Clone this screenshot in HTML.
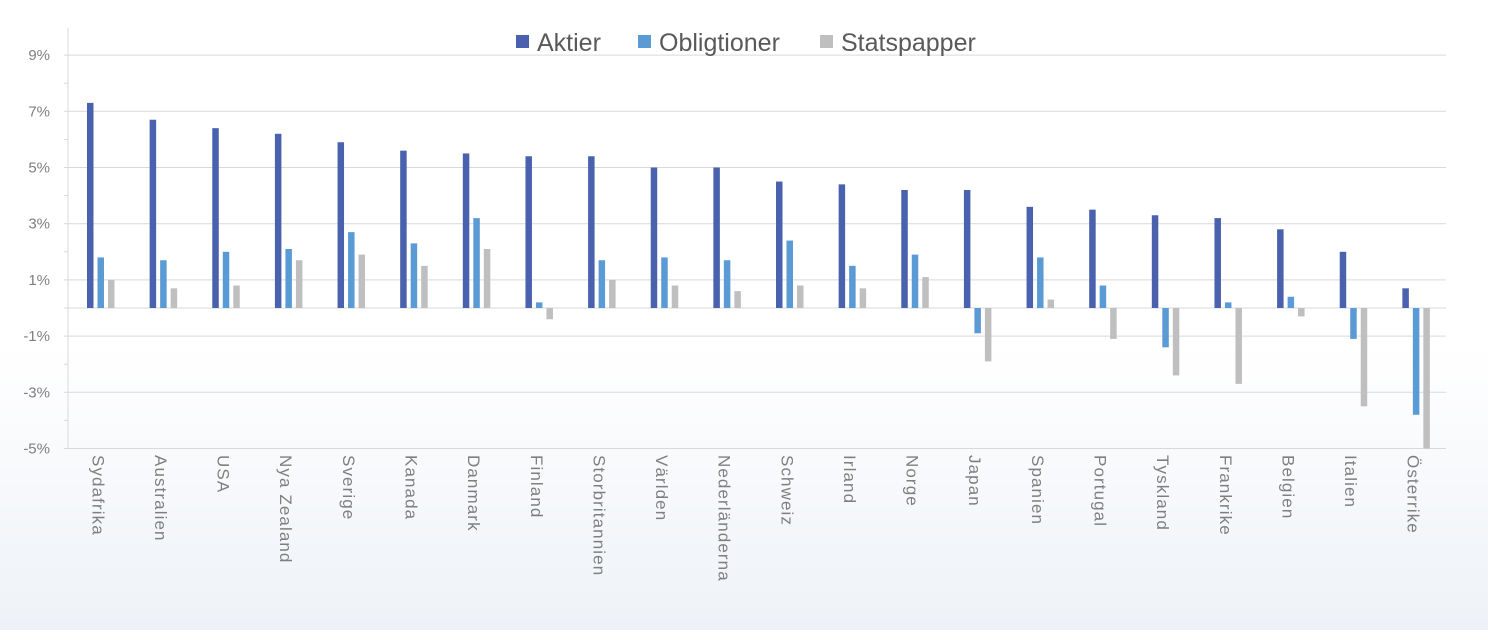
<!DOCTYPE html>
<html><head><meta charset="utf-8"><style>
html,body{margin:0;padding:0}
body{width:1488px;height:630px;background:linear-gradient(#ffffff 0%,#ffffff 55%,#eef2f7 100%);font-family:"Liberation Sans",sans-serif;}
</style></head><body>
<svg width="1488" height="630" xmlns="http://www.w3.org/2000/svg" id="s"></svg>
<script>
const s=document.getElementById('s');
const names=["Sydafrika","Australien","USA","Nya Zealand","Sverige","Kanada","Danmark","Finland","Storbritannien","Världen","Nederländerna","Schweiz","Irland","Norge","Japan","Spanien","Portugal","Tyskland","Frankrike","Belgien","Italien","Österrike"];
const A=[7.3,6.7,6.4,6.2,5.9,5.6,5.5,5.4,5.4,5.0,5.0,4.5,4.4,4.2,4.2,3.6,3.5,3.3,3.2,2.8,2.0,0.7];
const O=[1.8,1.7,2.0,2.1,2.7,2.3,3.2,0.2,1.7,1.8,1.7,2.4,1.5,1.9,-0.9,1.8,0.8,-1.4,0.2,0.4,-1.1,-3.8];
const S=[1.0,0.7,0.8,1.7,1.9,1.5,2.1,-0.4,1.0,0.8,0.6,0.8,0.7,1.1,-1.9,0.3,-1.1,-2.4,-2.7,-0.3,-3.5,-5.0];
const y0=308,k=28.1,L=68,R=1446,cw=(R-L)/22;
let h='';
for(let v=9;v>=-5;v-=2){const y=y0-v*k;h+=`<line x1="${L}" x2="${R}" y1="${y}" y2="${y}" stroke="#d9d9d9"/>`;
h+=`<text x="50" y="${y+5}" text-anchor="end" font-size="15" fill="#7f7f7f">${v}%</text>`;}
for(let v=10;v>=-5;v-=1){const y=y0-v*k;if(y<30)continue;h+=`<line x1="${L-4}" x2="${L}" y1="${y}" y2="${y}" stroke="#d9d9d9"/>`;}
h+=`<line x1="${L}" x2="${L}" y1="28" y2="449" stroke="#d9d9d9"/>`;
h+=`<line x1="${L}" x2="${R}" y1="${y0}" y2="${y0}" stroke="#d9d9d9"/>`;
const bar=(x,v,c)=>{const y=v>=0?y0-v*k:y0;return `<rect x="${x}" y="${y}" width="6.5" height="${Math.abs(v)*k}" fill="${c}"/>`;};
names.forEach((n,i)=>{const x=L+i*cw;
h+=bar(x+19,A[i],'#4a62ad')+bar(x+29.5,O[i],'#5b9bd5')+bar(x+40,S[i],'#bfbfbf');
h+=`<text transform="translate(${x+cw/2-7},455) rotate(90)" font-size="17" letter-spacing="1.1" fill="#7f7f7f">${n}</text>`;});
h+=`<rect x="516" y="35" width="13" height="13" fill="#4a62ad"/><text x="537" y="51" font-size="25" fill="#595959">Aktier</text>`;
h+=`<rect x="638" y="35" width="13" height="13" fill="#5b9bd5"/><text x="659" y="51" font-size="25" fill="#595959">Obligtioner</text>`;
h+=`<rect x="820" y="35" width="13" height="13" fill="#bfbfbf"/><text x="841" y="51" font-size="25" fill="#595959">Statspapper</text>`;
s.innerHTML=h;
</script>
</body></html>
